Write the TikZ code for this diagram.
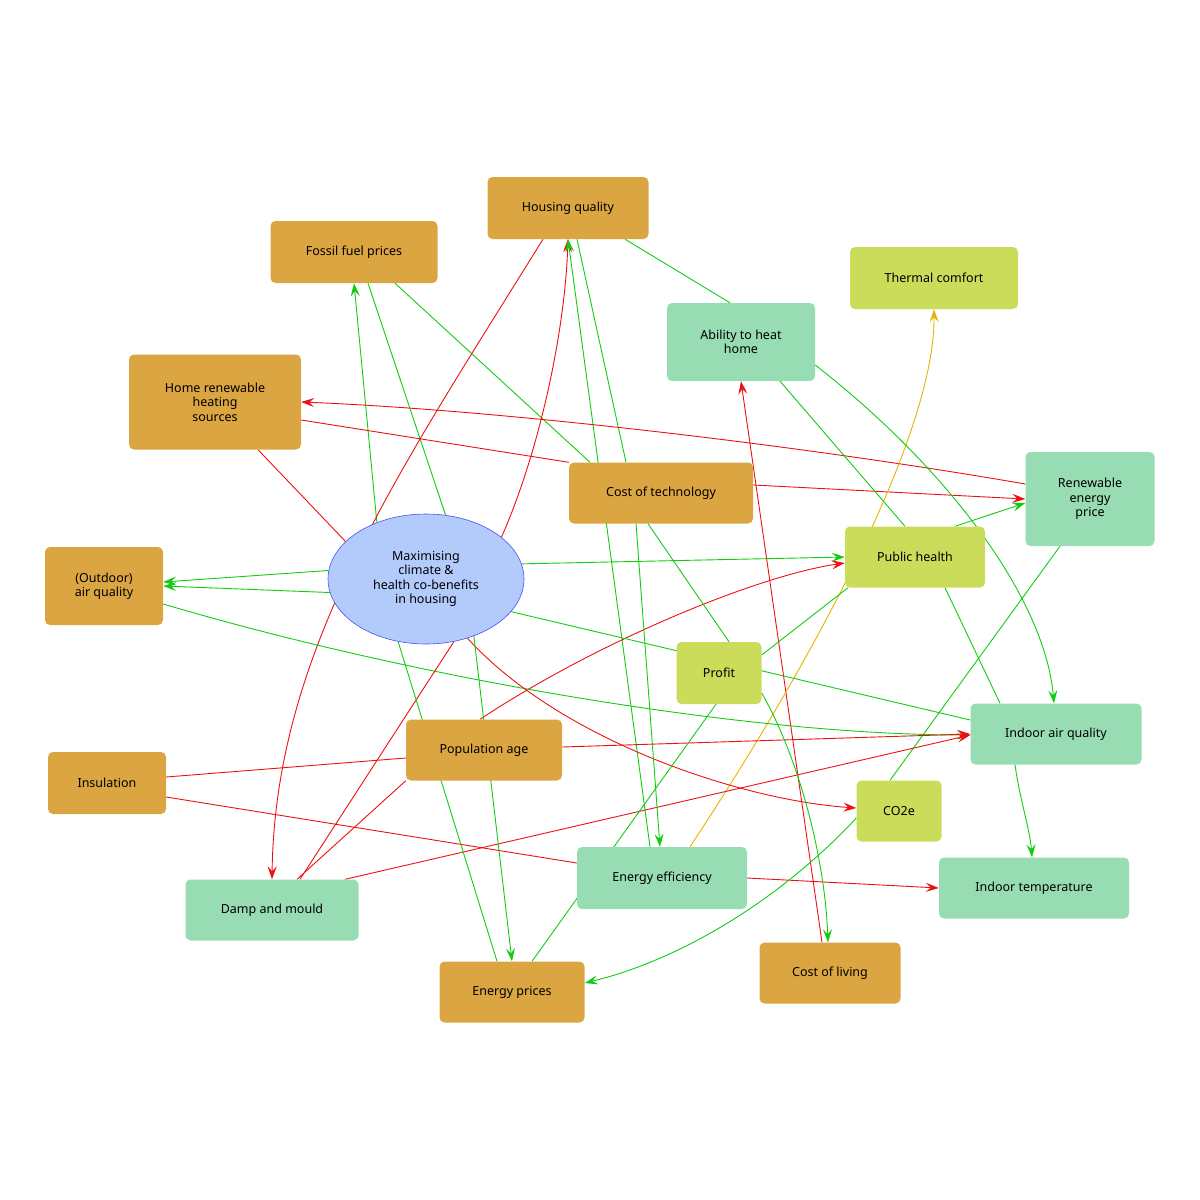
\documentclass[tikz,border=0pt]{standalone}
\usepackage{fontspec}
\setmainfont{Noto Sans}
\usetikzlibrary{arrows.meta,backgrounds,shapes.geometric}
\definecolor{orn}{HTML}{DBA541}
\definecolor{tea}{HTML}{98DCB3}
\definecolor{lim}{HTML}{CBDC5B}
\definecolor{ell}{HTML}{B3CBFB}
\definecolor{gr}{HTML}{11CC11}
\definecolor{rd}{HTML}{EE1111}
\definecolor{yl}{HTML}{E6B400}
\tikzset{
 box/.style={rectangle,rounded corners=5pt,inner sep=0pt,align=center,font=\fontsize{12.5}{14.5}\selectfont},
 bo/.style={box,fill=orn},
 bt/.style={box,fill=tea},
 bl/.style={box,fill=lim},
 gln/.style={gr,line width=0.9pt},
 rln/.style={rd,line width=0.9pt},
 yln/.style={yl,line width=0.9pt},
 >={Stealth[length=13pt,width=9pt,inset=5pt]}
}
\begin{document}
\begin{tikzpicture}[x=1pt,y=1pt]
\useasboundingbox (0,0) rectangle (1200,-1200);
\node[bo,minimum width=161pt,minimum height=62pt] (HQ) at (568,-208) {Housing quality};
\node[bo,minimum width=167pt,minimum height=62pt] (FF) at (354,-252) {Fossil fuel prices};
\node[bo,minimum width=172pt,minimum height=95pt] (HR) at (215,-402) {Home renewable\\heating\\sources};
\node[bl,minimum width=168pt,minimum height=62pt] (TC) at (934,-278) {Thermal comfort};
\node[bt,minimum width=148pt,minimum height=78pt] (AH) at (741,-342) {Ability to heat\\home};
\node[bo,minimum width=184pt,minimum height=61pt] (CT) at (661,-493) {Cost of technology};
\node[bt,minimum width=129pt,minimum height=94pt] (RE) at (1090,-499) {Renewable\\energy\\price};
\node[bl,minimum width=140pt,minimum height=61pt] (PH) at (915,-557) {Public health};
\node[ellipse,fill=ell,draw=blue!70!white,line width=0.6pt,minimum width=196pt,minimum height=130pt,inner sep=0pt,align=center,font=\fontsize{12.5}{14.5}\selectfont] (M) at (426,-579) {Maximising\\climate \&\\health co-benefits\\in housing};
\node[bo,minimum width=118pt,minimum height=78pt] (OA) at (104,-586) {(Outdoor)\\air quality};
\node[bl,minimum width=85pt,minimum height=62pt] (PR) at (719,-673) {Profit};
\node[bt,minimum width=171pt,minimum height=61pt] (IA) at (1056,-734) {Indoor air quality};
\node[bo,minimum width=156pt,minimum height=61pt] (PA) at (484,-750) {Population age};
\node[bo,minimum width=118pt,minimum height=62pt] (IN) at (107,-783) {Insulation};
\node[bl,minimum width=85pt,minimum height=61pt] (CO) at (899,-811) {CO2e};
\node[bt,minimum width=170pt,minimum height=62pt] (EE) at (662,-878) {Energy efficiency};
\node[bt,minimum width=190pt,minimum height=61pt] (IT) at (1034,-888) {Indoor temperature};
\node[bt,minimum width=173pt,minimum height=61pt] (DM) at (272,-910) {Damp and mould};
\node[bo,minimum width=145pt,minimum height=61pt] (EP) at (512,-992) {Energy prices};
\node[bo,minimum width=141pt,minimum height=61pt] (CL) at (830,-973) {Cost of living};
\begin{pgfonlayer}{background}
\draw[gln,->] (M.131) -- (FF.south);
\draw[gln] (M.73) -- ([xshift=14pt]FF.south);
\draw[gln] ([xshift=41pt]FF.south) -- ([xshift=-71pt]CT.north);
\draw[rln,->] ([xshift=-25pt]HQ.south) .. controls (400,-470) and (275,-650) .. (DM.north);
\draw[rln,->] (M.29) .. controls (540,-450) and (565,-330) .. (HQ.south);
\draw[gln,->] ([xshift=-12pt]EE.north) -- (HQ.south);
\draw[gln] ([xshift=9pt]HQ.south) -- ([xshift=-35pt]CT.north);
\draw[gln] ([xshift=57pt]HQ.south) -- ([xshift=-11pt]AH.north);
\draw[rln] ([yshift=-18pt]HR.east) -- (CT.north west);
\draw[rln,->] ([yshift=15pt]RE.west) .. controls (800,-445) and (500,-410) .. (HR.east);
\draw[rln,->] ([yshift=8pt]CT.east) -- (RE.west);
\draw[rln] ([xshift=43pt]HR.south) -- (M.155);
\draw[rln,->] ([xshift=-8pt]CL.north) -- (AH.south);
\draw[yln,->] ([xshift=28pt]EE.north) .. controls (820,-650) and (935,-430) .. (TC.south);
\draw[gln] ([xshift=39pt]AH.south) -- ([xshift=-10pt]PH.north);
\draw[gln,->] ([yshift=-23pt]AH.east) .. controls (950,-470) and (1045,-600) .. ([xshift=-2pt]IA.north);
\draw[gln,->] (M.9) -- (PH.west);
\draw[rln,->] ([xshift=-4pt]PA.north) .. controls (600,-640) and (760,-575) .. ([yshift=-6pt]PH.west);
\draw[gln,->] ([xshift=40pt]PH.north) -- ([yshift=-4pt]RE.west);
\draw[gln] ([xshift=30pt]PH.south) -- ([xshift=-56pt]IA.north);
\draw[gln,->] ([xshift=-41pt]IA.south) .. controls (1020,-800) and (1030,-830) .. ([xshift=-2pt]IT.north);
\draw[gln] ([xshift=-30pt]RE.south) -- ([xshift=-9pt]CO.north);
\draw[gln] ([xshift=-67pt]PH.south) -- ([yshift=18pt]PR.east);
\draw[gln] ([xshift=-13pt]CT.south) -- ([xshift=10pt]PR.north);
\draw[gln] (M.-21) -- ([yshift=14pt]IA.west);
\draw[gln,->] ([yshift=-18pt]OA.east) .. controls (420,-680) and (750,-735) .. ([yshift=-1pt]IA.west);
\draw[gln,->] (M.175) -- ([yshift=4pt]OA.east);
\draw[gln,->] (M.188) -- (OA.east);
\draw[rln,->] ([yshift=3pt]PA.east) -- (IA.west);
\draw[rln] ([yshift=6pt]IN.east) -- ([yshift=-8pt]PA.west);
\draw[rln,->] ([xshift=73pt]DM.north) -- ([yshift=-1pt]IA.west);
\draw[rln] ([yshift=-14pt]IN.east) -- ([yshift=15pt]EE.west);
\draw[rln,->] (EE.east) -- (IT.west);
\draw[rln] (M.-66) -- ([xshift=28pt]DM.north);
\draw[rln] (PA.south west) -- ([xshift=25pt]DM.north);
\draw[rln,->] (M.-55) .. controls (560,-740) and (740,-800) .. ([yshift=3pt]CO.west);
\draw[gln] (M.-114) -- ([xshift=-15pt]EP.north);
\draw[gln,->] (M.-50) -- (EP.north);
\draw[gln] ([xshift=-3pt]PR.south) -- ([xshift=20pt]EP.north);
\draw[gln,->] ([yshift=-7pt]CO.west) .. controls (780,-900) and (680,-960) .. ([yshift=9pt]EP.east);
\draw[gln,->] ([yshift=-20pt]PR.east) .. controls (800,-760) and (825,-860) .. ([xshift=-2pt]CL.north);
\draw[gln,->] ([xshift=-25pt]CT.south) -- ([xshift=-2pt]EE.north);
\end{pgfonlayer}
\end{tikzpicture}
\end{document}
